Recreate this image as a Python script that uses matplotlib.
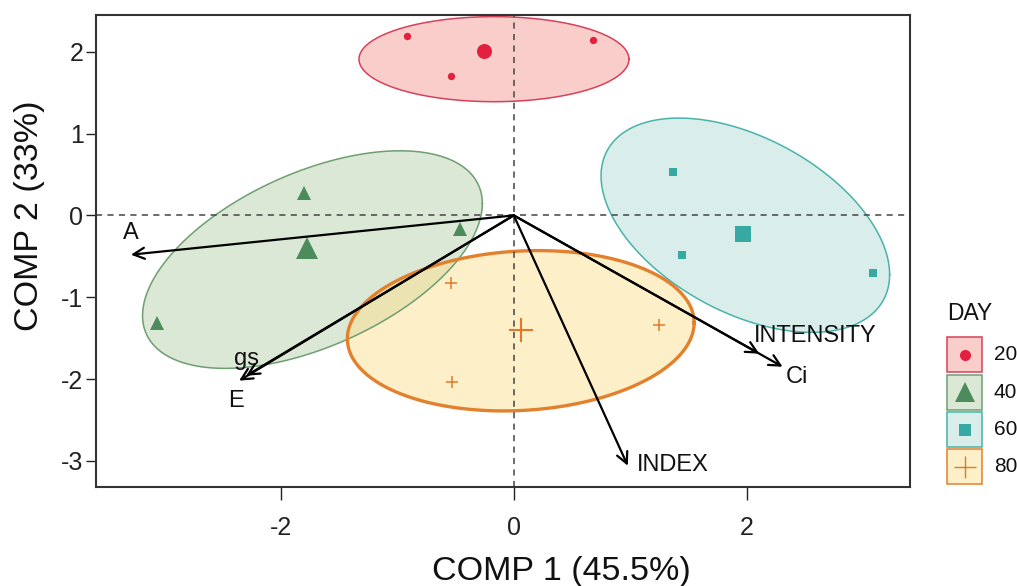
import numpy as np
import matplotlib
matplotlib.use("Agg")
import matplotlib.pyplot as plt

plt.rcParams["font.family"] = ["Liberation Sans", "DejaVu Sans"]

# ---- sample scores on the first two components, by day ----
days = ["20", "40", "60", "80"]
day20_x = [-0.92, -0.54, 0.68]
day20_y = [2.19, 1.70, 2.14]
day40_x = [-1.80, -0.46, -3.07]
day40_y = [0.27, -0.16, -1.32]
day60_x = [1.37, 1.45, 3.09]
day60_y = [0.53, -0.49, -0.71]
day80_x = [-0.54, 1.25, -0.53]
day80_y = [-0.83, -1.34, -2.04]

# ---- group ellipses: centre, half-extents along x / y, correlation ----
ell_cx = [-0.17, -1.73, 1.99, 0.06]
ell_cy = [1.91, -0.54, -0.12, -1.41]
ell_hx = [1.16, 1.46, 1.24, 1.49]
ell_hy = [0.52, 1.33, 1.31, 0.98]
ell_r = [0.0, 0.515, -0.46, 0.10]

# ---- variable loadings (arrows) ----
var_names = ["A", "gs", "E", "INTENSITY", "Ci", "INDEX"]
load_x = [-3.29, -2.30, -2.36, 2.11, 2.31, 0.98]
load_y = [-0.48, -1.96, -2.02, -1.69, -1.85, -3.06]

xlabel = "COMP 1 (45.5%)"
ylabel = "COMP 2 (33%)"
xticks = [-2, 0, 2]
yticks = [-3, -2, -1, 0, 1, 2]

# ---- styling ----
mark_col = ["#E3203F", "#4C8C5C", "#36A9A3", "#E07A2A"]
fill_col = ["#F49C96", "#B9D2AD", "#B5DCD8", "#FCE090"]
edge_col = ["#D9405A", "#6E9E72", "#48B2AC", "#E3802E"]
edge_lw = [1.1, 1.1, 1.1, 2.4]
markers = ["o", "^", "s", "+"]
small_ms = [5.3, 9.4, 6.0, 8.0]
big_ms = [10.8, 15.8, 11.3, 17.0]
leg_ms = [8.0, 15.0, 8.0, 16.0]
# label offsets (points) relative to arrow tips, with alignment
lab_off = {"A": (0, 11, "center"), "gs": (0, 8, "center"), "E": (-2, -19, "center"),
           "INTENSITY": (-3.6, 8.6, "left"), "Ci": (2, -12, "left"),
           "INDEX": (6.5, -3.6, "left")}

xs = [day20_x, day40_x, day60_x, day80_x]
ys = [day20_y, day40_y, day60_y, day80_y]

W, H = 1017, 586
fig = plt.figure(figsize=(W / 100, H / 100), dpi=100)
ax = fig.add_axes([96 / W, 1 - 487 / H, 814 / W, 472 / H])
ax.set_xlim(-3.59, 3.405)
ax.set_ylim(-3.32, 2.45)

t = np.linspace(0, 2 * np.pi, 400)
for i in range(4):
    r = ell_r[i]
    ex = ell_cx[i] + ell_hx[i] * np.cos(t)
    ey = ell_cy[i] + ell_hy[i] * (r * np.cos(t) + np.sqrt(1 - r * r) * np.sin(t))
    ax.fill(ex, ey, color=fill_col[i], alpha=0.5, lw=0, zorder=1)
    ax.plot(ex, ey, color=edge_col[i], lw=edge_lw[i], zorder=2)

ax.axhline(0, color="#444444", lw=1.1, ls=(0, (4, 3.5)), zorder=2.5)
ax.axvline(0, color="#444444", lw=1.1, ls=(0, (4, 3.5)), zorder=2.5)

for i in range(4):
    mew = 1.1 if markers[i] == "+" else 0
    ax.plot(xs[i], ys[i], ls="none", marker=markers[i], ms=small_ms[i],
            color=mark_col[i], mew=mew, zorder=3)
    ax.plot([np.mean(xs[i])], [np.mean(ys[i])], ls="none", marker=markers[i],
            ms=big_ms[i], color=mark_col[i], mew=(1.5 if mew else 0), zorder=3)

for name, lx, ly in zip(var_names, load_x, load_y):
    ax.annotate("", xy=(lx, ly), xytext=(0, 0),
                arrowprops=dict(arrowstyle="->", color="black", lw=1.6,
                                mutation_scale=20, shrinkA=0, shrinkB=0),
                zorder=4)
    dx, dy, ha = lab_off[name]
    ax.annotate(name, xy=(lx, ly), xytext=(dx, dy), textcoords="offset points",
                ha=ha, va="baseline", fontsize=17, color="#111111", zorder=5)

ax.set_xticks(xticks)
ax.set_yticks(yticks)
ax.set_xticklabels([str(v) for v in xticks])
ax.set_yticklabels([str(v) for v in yticks])
ax.tick_params(axis="x", direction="out", length=9, width=1, pad=12,
               labelsize=18, colors="#222222")
ax.tick_params(axis="y", direction="out", length=7, width=1, pad=2,
               labelsize=18, colors="#222222")
for sp in ax.spines.values():
    sp.set_linewidth(1.5)
    sp.set_color("#333333")

fig.text(561 / W, 1 - 580 / H, xlabel, ha="center", va="baseline", fontsize=24.5,
         color="#111111")
fig.text(30 / W, 1 - 215.5 / H, ylabel, ha="center", va="center", rotation=90,
         fontsize=24.5, color="#111111")

# ---- legend, drawn in pixel coordinates ----
lax = fig.add_axes([0, 0, 1, 1])
lax.set_xlim(0, W)
lax.set_ylim(H, 0)
lax.axis("off")
lax.patch.set_visible(False)
lax.text(947, 313, "DAY", ha="left", va="center", fontsize=16.5, color="#111111")
box_y = [354.5, 392, 429.5, 466.5]
for i, d in enumerate(days):
    cy = box_y[i]
    lax.add_patch(plt.Rectangle((947, cy - 17.5), 35, 35, facecolor=fill_col[i],
                                alpha=0.5, lw=0))
    lax.add_patch(plt.Rectangle((947, cy - 17.5), 35, 35, facecolor="none",
                                edgecolor=edge_col[i], lw=1.1))
    lax.plot([964.5], [cy], ls="none", marker=markers[i], ms=leg_ms[i],
             color=mark_col[i], mew=(1.0 if markers[i] == "+" else 0))
    lax.text(994, cy, d, ha="left", va="center", fontsize=15, color="#111111")

fig.savefig("out.png", dpi=100)
